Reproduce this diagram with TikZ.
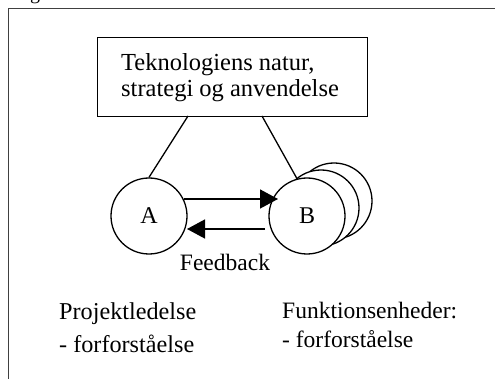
\documentclass[tikz,border=0pt]{standalone}
\usepackage{fontspec}
\setmainfont{Liberation Serif}
\usetikzlibrary{arrows.meta}

\tikzset{
  frameline/.style={line width=1pt, draw=black!75},
  unit/.style={circle, draw, line width=1.3pt, fill=white, minimum size=76pt, inner sep=0pt,
               font=\fontsize{24}{26}\selectfont},
  link/.style={line width=1.3pt},
  flow/.style={line width=1.5pt, -{Triangle[length=18pt,width=19pt]}},
  txt/.style={inner sep=0pt, anchor=base west},
  boxfont/.style={font=\fontsize{24.5}{26}\selectfont},
  projfont/.style={font=\fontsize{24.2}{26}\selectfont},
  funkfont/.style={font=\fontsize{23.5}{26}\selectfont}
}

\begin{document}
\begin{tikzpicture}[x=1pt, y=-1pt]
  \useasboundingbox (0,0) rectangle (495,379);
  \clip (0,0) rectangle (495,379);

  % caption letter sitting just above the frame
  \node[txt, font=\fontsize{20}{22}\selectfont] (cap) at (30,0) {g};

  % open frame: top and left edges
  \coordinate (fa) at (495,9);
  \coordinate (fb) at (8,9);
  \coordinate (fc) at (8,379);
  \draw[frameline] (fa) -- (fb) -- (fc);

  % top box
  \node[draw, line width=1.4pt, anchor=north west, minimum width=270pt, minimum height=79pt,
        inner sep=0pt] (tek) at (97,37) {};
  \node[txt, boxfont] (tek1) at (121,71) {Teknologiens natur,};
  \node[txt, boxfont] (tek2) at (121,97) {strategi og anvendelse};

  % stacked units behind B
  \node[unit] (B3) at (334,201) {};
  \node[unit] (B2) at (321,208) {};
  \node[unit] (B) at (307,216) {B};
  \node[unit] (A) at (149,216) {A};

  % links from the box
  \coordinate (tl) at (188,116);
  \coordinate (tr) at (262,116);
  \draw[link] (tl) -- (A.north);
  \draw[link] (tr) -- (B.105);

  % arrows between A and B
  \coordinate (ab0) at (184,199);
  \coordinate (ab1) at (278,199);
  \coordinate (ba0) at (265,229);
  \coordinate (ba1) at (187,229);
  \draw[flow] (ab0) -- (ab1);
  \draw[flow] (ba0) -- (ba1);

  \node[inner sep=0pt, anchor=base, funkfont] (feed) at (225,270) {Feedback};

  % role labels
  \node[txt, projfont] (proj1) at (59,319) {Projektledelse};
  \node[txt, projfont] (proj2) at (59,352) {- forforståelse};
  \node[txt, funkfont] (funk1) at (282,318) {Funktionsenheder:};
  \node[txt, funkfont] (funk2) at (282,347) {- forforståelse};
\end{tikzpicture}
\end{document}
